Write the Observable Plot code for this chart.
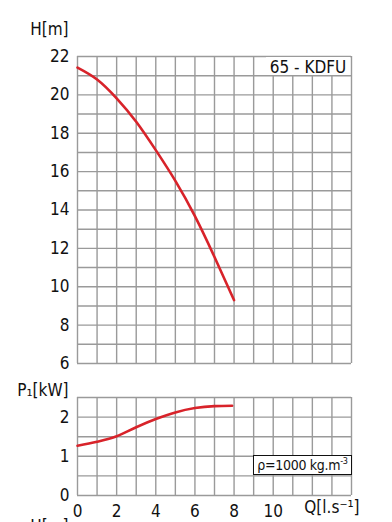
<!DOCTYPE html>
<html>
<head>
<meta charset="utf-8">
<script src="https://cdn.jsdelivr.net/npm/d3@7"></script>
<script src="https://cdn.jsdelivr.net/npm/@observablehq/plot@0.6"></script>
<style>
  html, body { margin:0; padding:0; background:#fff; overflow:hidden; width:392px; height:522px; }
  #wrap { position:relative; width:392px; height:522px; font-family:"Liberation Sans Narrow","DejaVu Sans Condensed",sans-serif; }
  .chart { position:absolute; left:0; }
  #model { position:absolute; left:266px; top:57px; width:84px; height:18px; background:#fff; font-size:17px; line-height:20px; text-align:center; color:#111; white-space:nowrap; }
  #rho { position:absolute; left:253px; top:455px; width:97px; height:18px; border:1.5px solid #111; background:#fff; font-size:14px; line-height:19px; text-align:center; color:#111; white-space:nowrap; letter-spacing:-0.3px; }
  #rho sup { font-size:9px; position:relative; top:-6px; vertical-align:baseline; line-height:0; }
</style>
</head>
<body>
<div id="wrap">
  <div class="chart" id="top" style="top:0"></div>
  <div class="chart" id="bot" style="top:375px"></div>
  <div id="model"></div>
  <div id="rho">ρ=1000 kg.m<sup>-3</sup></div>
</div>
<script>
// Data
const Q_H = [0, 1, 2, 3, 4, 5, 6, 7, 8];
const H = [21.42, 20.8, 19.82, 18.6, 17.12, 15.52, 13.68, 11.55, 9.3];
const Q_P = [0, 1, 2, 3, 4, 5, 6, 7, 7.9];
const P = [1.27, 1.37, 1.51, 1.74, 1.95, 2.12, 2.23, 2.28, 2.29];
const xTicks = [0, 2, 4, 6, 8, 10];
const hTicks = [6, 8, 10, 12, 14, 16, 18, 20, 22];
const pTicks = [0, 1, 2];
const modelLabel = "65 - KDFU";
const hLabel = "H[m]";
const pLabel = "P₁[kW]";
const qLabel = "Q[l.s⁻¹]";

document.getElementById("model").textContent = modelLabel;

const FONT = '"Liberation Sans Narrow","DejaVu Sans Condensed",sans-serif';
const GRID = "#9a9a9a";
const RED = "#d8232a";

const hData = Q_H.map((q, i) => ({q, h: H[i]}));
const pData = Q_P.map((q, i) => ({q, p: P[i]}));

const topPlot = Plot.plot({
  width: 392, height: 375,
  marginLeft: 77, marginRight: 41, marginTop: 56, marginBottom: 12,
  style: {fontFamily: FONT, fontSize: "17px", color: "#111", background: "#fff", overflow: "visible"},
  x: {domain: [0, 14], axis: null},
  y: {domain: [6, 22], axis: null},
  marks: [
    Plot.gridX(d3.range(0, 15), {stroke: GRID, strokeOpacity: 1, strokeWidth: 1.4}),
    Plot.gridY(d3.range(6, 23), {stroke: GRID, strokeOpacity: 1, strokeWidth: 1.4}),
    Plot.axisY(hTicks, {tickSize: 0, tickPadding: 8, fontSize: 17, label: null, fill: "#111"}),
    Plot.text([hLabel], {frameAnchor: "top-left", text: d => d, dx: -9, dy: -34, textAnchor: "end", fontSize: 17, fill: "#111"}),
    Plot.line(hData, {x: "q", y: "h", stroke: RED, strokeWidth: 2.6, curve: "natural"})
  ]
});
document.getElementById("top").appendChild(topPlot);

const botPlot = Plot.plot({
  width: 392, height: 147,
  marginLeft: 77, marginRight: 41, marginTop: 22, marginBottom: 27,
  style: {fontFamily: FONT, fontSize: "17px", color: "#111", background: "transparent", overflow: "visible"},
  x: {domain: [0, 14], axis: null},
  y: {domain: [0, 2.5], axis: null},
  marks: [
    Plot.gridX(d3.range(0, 15), {stroke: GRID, strokeOpacity: 1, strokeWidth: 1.4}),
    Plot.gridY(d3.range(0, 2.51, 0.5), {stroke: GRID, strokeOpacity: 1, strokeWidth: 1.4}),
    Plot.axisY(pTicks, {tickSize: 0, tickPadding: 8, fontSize: 17, label: null, fill: "#111"}),
    Plot.axisX(xTicks, {tickSize: 0, tickPadding: 9, fontSize: 17, label: null, fill: "#111"}),
    Plot.text([qLabel], {x: 13, frameAnchor: "bottom", text: d => d, dy: 17, fontSize: 17, fill: "#111"}),
    Plot.text([pLabel], {frameAnchor: "top-left", text: d => d, dx: -9, dy: -14, textAnchor: "end", fontSize: 17, fill: "#111"}),
    Plot.text([hLabel], {frameAnchor: "bottom-left", text: d => d, dx: -9, dy: 36, textAnchor: "end", fontSize: 17, fill: "#111"}),
    Plot.line(pData, {x: "q", y: "p", stroke: RED, strokeWidth: 2.6, curve: "monotone-x"})
  ]
});
document.getElementById("bot").appendChild(botPlot);
</script>
</body>
</html>
